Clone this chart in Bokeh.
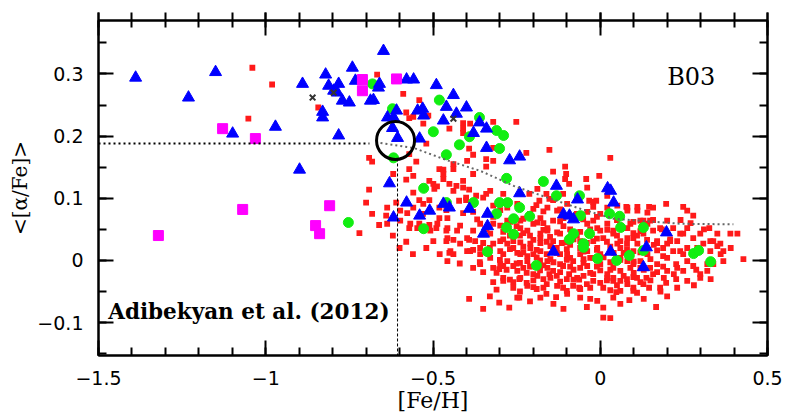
from bokeh.plotting import figure
from bokeh.models import Range1d, FixedTicker, LinearAxis, Label, CustomJSTickFormatter
from bokeh.embed import file_html
from bokeh.resources import INLINE
import numpy as np

# ---------------- data ([Fe/H], <[alpha/Fe]>) ----------------
red = [
    (-1.040, 0.310), (-0.981, 0.283), (-1.052, 0.228), (-0.843, 0.246), (-0.667, 0.299),
    (-0.691, 0.165), (-0.682, 0.159), (-0.619, 0.139), (-0.691, 0.114), (-0.700, 0.093),
    (-0.610, 0.093), (-0.682, 0.075), (-0.661, 0.057), (-0.640, 0.072), (-0.720, 0.044),
    (-0.580, 0.130), (-0.559, 0.136), (-0.559, 0.109), (-0.511, 0.128), (-0.499, 0.123),
    (-0.488, 0.119), (-0.469, 0.131), (-0.541, 0.097), (-0.529, 0.091), (-0.511, 0.097),
    (-0.481, 0.085), (-0.460, 0.081), (-0.571, 0.052), (-0.541, 0.059), (-0.511, 0.057),
    (-0.490, 0.052), (-0.460, 0.048), (-0.499, 0.031), (-0.460, 0.031), (-0.451, 0.012),
    (-0.481, 0.068), (-0.496, 0.115), (-0.577, 0.076), (-0.589, 0.268), (-0.541, 0.258),
    (-0.580, 0.238), (-0.571, 0.229), (-0.410, 0.221), (-0.451, 0.212), (-0.410, 0.212),
    (-0.410, 0.205), (-0.389, 0.220), (-0.550, 0.159), (-0.520, 0.188), (-0.481, 0.147),
    (-0.439, 0.147), (-0.398, 0.160), (-0.410, 0.128), (-0.571, 0.147), (-0.514, 0.233),
    (-0.559, 0.231), (-0.529, 0.220), (-0.392, 0.180), (-0.380, 0.170), (-0.320, 0.223),
    (-0.251, 0.223), (-0.152, 0.178), (-0.105, 0.151), (-0.102, 0.139), (-0.105, 0.131),
    (-0.042, 0.131), (-0.003, 0.136), (0.030, 0.165), (-0.571, 0.171), (-0.469, 0.146),
    (-0.341, 0.151), (-0.341, 0.163), (-0.320, 0.160), (-0.380, 0.139), (-0.439, 0.155),
    (-0.451, 0.123), (-0.439, 0.112), (-0.392, 0.114), (-0.422, 0.096), (-0.401, 0.097),
    (-0.341, 0.107), (-0.290, 0.107), (-0.212, 0.107), (-0.182, 0.096), (-0.161, 0.107),
    (-0.111, 0.107), (-0.093, 0.123), (-0.033, 0.096), (-0.012, 0.096), (-0.021, 0.086),
    (0.078, 0.086), (0.111, 0.086), (0.146, 0.086), (0.197, 0.091), (0.248, 0.086),
    (-0.191, 0.089), (-0.141, 0.097), (-0.320, 0.181), (-0.221, 0.173), (-0.141, 0.143),
    (-0.469, 0.139), (-0.430, 0.120), (-0.410, 0.117), (-0.371, 0.104), (-0.350, 0.101),
    (-0.401, 0.101), (-0.329, 0.112), (-0.188, 0.115), (-0.152, 0.099), (-0.021, 0.094),
    (-0.039, 0.117), (0.021, 0.104), (0.278, 0.072), (0.326, 0.052), (0.338, 0.031),
    (0.359, 0.027), (0.389, 0.043), (0.410, 0.043), (0.428, 0.002), (0.368, 0.015),
    (0.350, 0.023), (0.287, -0.015), (0.299, -0.022), (0.320, -0.017), (0.227, -0.030),
    (0.197, -0.036), (0.138, -0.028), (0.146, -0.044), (0.099, -0.044), (0.048, -0.051),
    (0.009, -0.044), (-0.063, -0.044), (-0.111, -0.044), (-0.132, -0.059), (-0.161, -0.054),
    (-0.200, -0.043), (-0.260, -0.044), (-0.290, -0.033), (-0.302, -0.014), (-0.290, -0.009),
    (-0.260, -0.009), (-0.242, -0.030), (-0.200, -0.022), (-0.152, -0.022), (-0.093, -0.022),
    (-0.063, -0.031), (-0.021, -0.033), (0.039, -0.033), (0.099, -0.027), (0.158, -0.022),
    (0.188, -0.010), (0.227, -0.006), (0.239, 0.015), (0.188, 0.007), (0.170, 0.031),
    (0.209, 0.031), (0.239, 0.043), (0.260, 0.052), (0.329, 0.015), (0.338, -0.006),
    (0.278, -0.009), (0.218, 0.052), (0.200, 0.064), (0.141, 0.059), (0.120, 0.064),
    (0.099, 0.044), (0.081, 0.036), (0.060, 0.020), (0.099, 0.015), (0.081, -0.001),
    (0.120, -0.012), (0.039, -0.012), (0.021, -0.022), (0.000, -0.006), (-0.021, 0.004),
    (-0.039, 0.015), (-0.060, 0.031), (-0.021, 0.031), (0.000, 0.048), (0.039, 0.043),
    (0.060, 0.056), (0.021, 0.059), (-0.021, 0.064), (-0.141, 0.031), (-0.120, 0.043),
    (-0.158, 0.048), (-0.179, 0.036), (-0.209, 0.027), (-0.179, 0.015), (-0.158, -0.001),
    (-0.120, -0.006), (-0.099, 0.010), (-0.081, -0.001), (-0.060, -0.012), (-0.141, -0.017),
    (-0.218, -0.001), (-0.239, 0.010), (-0.260, 0.020), (-0.278, -0.001), (-0.299, 0.015),
    (-0.320, 0.027), (-0.299, 0.031), (-0.260, 0.031), (-0.218, 0.048), (-0.200, 0.059),
    (-0.239, 0.064), (-0.278, 0.064), (-0.320, 0.059), (-0.359, 0.059), (-0.380, 0.048),
    (-0.398, 0.036), (-0.428, 0.048), (-0.457, 0.052), (-0.487, 0.059), (-0.508, 0.048),
    (-0.457, 0.036), (-0.419, 0.027), (-0.448, 0.015), (-0.389, 0.015), (-0.359, 0.020),
    (-0.329, 0.004), (-0.320, -0.012), (-0.359, -0.006), (-0.380, -0.012), (-0.547, 0.052),
    (-0.568, 0.059), (-0.598, 0.064), (-0.637, 0.059), (-0.598, 0.080), (-0.559, 0.085),
    (-0.637, 0.085), (-0.392, -0.062), (-0.350, -0.078), (-0.302, -0.068), (-0.272, -0.076),
    (-0.242, -0.060), (0.030, -0.093), (0.009, -0.076), (-0.030, -0.062), (0.087, -0.064),
    (0.167, -0.075), (0.039, -0.060), (0.060, -0.033), (0.230, -0.012), (0.278, 0.036),
    (0.248, 0.043), (0.299, 0.043), (0.329, 0.031), (0.260, 0.080), (0.179, 0.052),
    (0.149, 0.064), (0.111, 0.080), (0.081, 0.085), (0.051, 0.088), (0.218, 0.015),
    (0.248, 0.010), (0.320, -0.006), (0.260, -0.001), (0.200, 0.004), (0.170, -0.006),
    (0.120, -0.001), (0.090, -0.012), (0.060, -0.017), (0.099, 0.036), (0.200, 0.027),
    (0.060, 0.031), (0.039, 0.048), (0.090, 0.059), (0.158, 0.085), (0.299, 0.015),
    (0.350, 0.043), (0.230, 0.031), (-0.419, 0.056), (-0.457, 0.068), (-0.410, 0.076),
    (-0.439, 0.033), (-0.374, 0.031), (-0.398, 0.015), (-0.439, 0.010), (-0.457, -0.001),
    (-0.359, 0.010), (-0.290, 0.010), (-0.248, 0.012), (-0.218, 0.007), (-0.149, 0.002),
    (-0.120, 0.010), (-0.090, 0.004), (-0.060, 0.010), (-0.030, 0.004), (0.000, 0.010),
    (-0.299, -0.006), (-0.230, -0.012), (-0.158, -0.012), (-0.111, -0.009), (-0.039, -0.009),
    (-0.290, -0.028), (-0.239, -0.028), (-0.188, -0.025), (-0.149, -0.028), (-0.069, -0.028),
    (-0.021, -0.022), (0.021, -0.028), (-0.218, -0.041), (-0.170, -0.044), (-0.129, -0.041),
    (-0.081, -0.041), (-0.030, -0.044), (-0.248, -0.017), (-0.209, 0.020), (-0.179, 0.028),
    (-0.149, 0.023), (-0.179, 0.043), (-0.230, 0.044), (-0.278, 0.027), (-0.329, 0.043),
    (-0.299, 0.056), (-0.158, 0.052), (-0.141, 0.064), (-0.179, 0.068), (-0.200, 0.083),
    (-0.158, 0.085), (-0.129, 0.080), (-0.099, 0.091), (-0.248, 0.091), (-0.278, 0.085),
    (-0.320, 0.088), (-0.039, 0.059), (-0.009, 0.052), (0.009, 0.036), (-0.009, 0.020),
    (0.000, 0.075), (0.021, 0.085), (-0.248, -0.060), (-0.179, -0.060), (-0.060, -0.060),
    (-0.009, -0.065), (-0.099, -0.054), (0.009, -0.092), (0.051, 0.027), (0.141, 0.010),
    (0.060, 0.004), (0.099, -0.006), (0.149, -0.012), (0.039, -0.028), (0.081, -0.038),
    (0.129, -0.038), (0.179, -0.044), (0.099, -0.049), (0.060, -0.049), (0.200, -0.017),
    (0.248, -0.017), (0.260, 0.020), (0.290, 0.020), (0.308, 0.027), (0.368, -0.001),
    (0.260, -0.033), (0.230, -0.044), (0.299, -0.028), (0.129, 0.064), (0.129, 0.043),
    (0.158, 0.048), (0.111, 0.027), (0.188, 0.020),
]

# extra stars read from the crowded thin-disc clump
red_clump = [
    (-0.380, 0.078), (-0.299, 0.081), (-0.170, 0.079), (-0.120, 0.082), (-0.039, 0.078),
    (0.081, 0.080), (0.141, 0.077), (-0.368, 0.066), (-0.269, 0.062), (-0.230, 0.067),
    (-0.188, 0.061), (-0.120, 0.063), (-0.051, 0.066), (0.099, 0.062), (0.158, 0.065),
    (-0.320, 0.070), (-0.340, 0.050), (-0.290, 0.046), (-0.239, 0.052), (-0.170, 0.049),
    (-0.129, 0.045), (-0.090, 0.050), (-0.060, 0.046), (0.021, 0.049), (0.081, 0.052),
    (0.120, 0.047), (0.184, 0.050), (-0.392, 0.033), (-0.350, 0.028), (-0.290, 0.034),
    (-0.239, 0.029), (-0.200, 0.033), (-0.160, 0.030), (-0.101, 0.029), (-0.080, 0.034),
    (-0.040, 0.028), (0.020, 0.030), (0.080, 0.027), (0.140, 0.033), (0.170, 0.028),
    (0.209, 0.034), (-0.380, 0.017), (-0.340, 0.012), (-0.270, 0.018), (-0.230, 0.013),
    (-0.190, 0.017), (-0.130, 0.012), (-0.100, 0.018), (-0.050, 0.014), (-0.010, 0.017),
    (0.040, 0.012), (0.080, 0.018), (0.120, 0.013), (0.170, 0.016), (-0.360, -0.003),
    (-0.300, 0.001), (-0.240, -0.004), (-0.180, 0.000), (-0.140, -0.003), (-0.100, 0.001),
    (-0.050, -0.004), (-0.010, 0.000), (0.030, -0.003), (0.060, 0.001), (0.100, -0.002),
    (0.150, 0.002), (-0.350, -0.019), (-0.280, -0.015), (-0.220, -0.020), (-0.180, -0.016),
    (-0.120, -0.019), (-0.080, -0.015), (-0.030, -0.020), (0.000, -0.016), (0.100, -0.020),
    (0.130, -0.015), (0.170, -0.019), (-0.320, -0.035), (-0.270, -0.031), (-0.220, -0.036),
    (-0.170, -0.030), (-0.120, -0.034), (-0.080, -0.031), (0.000, -0.036), (0.020, -0.032),
    (0.080, -0.030), (0.120, -0.035), (-0.310, -0.047), (-0.240, -0.050), (-0.190, -0.046),
    (-0.100, -0.049), (-0.060, -0.046), (0.030, -0.048), (0.180, -0.050), (0.110, -0.052),
    (-0.330, -0.058), (-0.210, -0.066), (-0.140, -0.070), (-0.040, -0.075), (0.060, -0.070),
    (0.130, -0.062), (-0.110, -0.078), (0.200, -0.058), (0.270, 0.060), (0.310, 0.050),
    (0.280, -0.040), (0.330, -0.030), (0.360, 0.010), (0.390, 0.020), (0.240, 0.065),
    (0.220, -0.022), (-0.620, 0.040), (-0.580, 0.030), (-0.560, 0.010), (-0.520, 0.020),
    (-0.530, 0.075), (-0.480, 0.010), (-0.420, -0.005), (-0.600, 0.020),
    (-0.230, 0.022), (-0.210, 0.040), (-0.190, 0.005), (-0.170, 0.060), (-0.150, 0.038),
    (-0.130, 0.020), (-0.110, 0.055), (-0.090, 0.025), (-0.070, 0.040), (-0.050, 0.002),
    (-0.030, 0.050), (-0.010, 0.035), (0.010, 0.005), (0.030, 0.022), (0.050, 0.040),
    (0.070, 0.012), (-0.250, -0.005), (-0.210, -0.010), (-0.170, -0.008), (-0.130, -0.025),
    (-0.090, -0.010), (-0.050, -0.025), (-0.010, -0.010), (0.030, -0.015), (0.070, -0.025),
    (-0.270, 0.040), (-0.250, 0.055), (-0.210, 0.075), (-0.110, 0.068), (-0.070, 0.075),
    (-0.010, 0.070), (0.050, 0.065), (0.110, 0.040), (0.160, 0.025), (-0.330, 0.020),
    (-0.310, -0.020), (-0.260, -0.035), (-0.200, -0.032), (-0.160, -0.038), (-0.100, -0.030),
    (-0.040, -0.038), (0.050, -0.040), (0.110, -0.028), (0.150, -0.032), (0.190, -0.028),
    (-0.060, 0.020), (-0.115, 0.028), (-0.160, 0.010), (-0.200, 0.010), (-0.240, 0.040),
]

blue = [
    (-1.389, 0.294), (-1.231, 0.262), (-1.150, 0.303), (-1.099, 0.204), (-0.971, 0.215),
    (-0.899, 0.146), (-0.890, 0.284), (-0.821, 0.299), (-0.812, 0.281), (-0.782, 0.284),
    (-0.797, 0.273), (-0.786, 0.270), (-0.771, 0.257), (-0.750, 0.254), (-0.741, 0.310),
    (-0.732, 0.289), (-0.830, 0.239), (-0.830, 0.230), (-0.782, 0.201), (-0.687, 0.257),
    (-0.678, 0.258), (-0.660, 0.284), (-0.663, 0.278), (-0.648, 0.337), (-0.630, 0.124),
    (-0.609, 0.241), (-0.618, 0.230), (-0.636, 0.230), (-0.621, 0.213), (-0.606, 0.197),
    (-0.579, 0.291), (-0.558, 0.291), (-0.490, 0.282), (-0.439, 0.266), (-0.546, 0.241),
    (-0.531, 0.244), (-0.528, 0.233), (-0.460, 0.247), (-0.469, 0.225), (-0.430, 0.236),
    (-0.400, 0.246), (-0.540, 0.196), (-0.361, 0.222), (-0.340, 0.212), (-0.379, 0.205),
    (-0.340, 0.181), (-0.271, 0.161), (-0.241, 0.167), (-0.579, 0.093), (-0.469, 0.091),
    (-0.451, 0.085), (-0.241, 0.108), (-0.131, 0.120), (-0.068, 0.098), (0.022, 0.116),
    (0.040, 0.093), (-0.618, 0.069), (-0.540, 0.072), (-0.510, 0.080), (-0.391, 0.083),
    (-0.337, 0.075), (-0.337, 0.055), (-0.349, 0.043), (-0.110, 0.074), (-0.092, 0.072),
    (-0.080, 0.066), (-0.140, 0.014), (0.031, 0.014), (0.138, 0.021), (0.129, -0.011),
    (0.198, 0.045), (0.031, 0.112),
]

green = [
    (-0.681, 0.284), (-0.621, 0.244), (-0.481, 0.258), (-0.499, 0.207), (-0.421, 0.186),
    (-0.460, 0.170), (-0.618, 0.165), (-0.361, 0.230), (-0.391, 0.199), (-0.310, 0.209),
    (-0.289, 0.201), (-0.301, 0.180), (-0.280, 0.132), (-0.170, 0.127), (-0.131, 0.104),
    (-0.062, 0.104), (-0.528, 0.116), (-0.460, 0.093), (-0.379, 0.093), (-0.301, 0.093),
    (-0.277, 0.093), (-0.241, 0.085), (-0.310, 0.075), (-0.259, 0.067), (-0.211, 0.071),
    (-0.280, 0.053), (-0.259, 0.042), (-0.337, 0.014), (-0.191, -0.008), (-0.059, 0.072),
    (-0.080, 0.043), (-0.092, 0.034), (-0.032, 0.043), (-0.050, 0.027), (-0.050, 0.021),
    (-0.008, 0.003), (0.049, 0.000), (0.087, 0.008), (0.129, 0.016), (0.129, 0.053),
    (0.058, 0.071), (0.028, 0.075), (0.061, 0.053), (0.279, 0.011), (0.294, 0.016),
    (0.330, -0.002), (-0.528, 0.051), (-0.753, 0.061),
]

magenta = [
    (-1.321, 0.040), (-1.069, 0.082), (-1.129, 0.212), (-1.031, 0.196), (-0.809, 0.088),
    (-0.851, 0.056), (-0.839, 0.043), (-0.711, 0.291), (-0.711, 0.273), (-0.609, 0.292),
]

cross = [(-0.860, 0.262), (-0.797, 0.270), (-0.439, 0.228)]

# dotted trend (running mean) and reference lines
trend_feh = [-0.657, -0.558, -0.457, -0.358, -0.259, -0.158, -0.059, 0.040, 0.141, 0.240, 0.398]
trend_alpha = [0.189, 0.181, 0.161, 0.144, 0.120, 0.101, 0.083, 0.067, 0.063, 0.059, 0.058]
hline_feh = [-1.5, -0.69]
hline_alpha = [0.188, 0.188]
vline_feh = [-0.606, -0.606]
vline_alpha = [0.164, -0.153]
circle_feh = [-0.612]
circle_alpha = [0.193]

x_ticks = [-1.5, -1.0, -0.5, 0.0, 0.5]
x_tick_labels = {-1.5: "\u22121.5", -1.0: "\u22121", -0.5: "\u22120.5", 0.0: "0", 0.5: "0.5"}
y_ticks = [-0.1, 0.0, 0.1, 0.2, 0.3]
y_tick_labels = {-0.1: "\u22120.1", 0.0: "0", 0.1: "0.1", 0.2: "0.2", 0.3: "0.3"}

# ---------------- figure ----------------
p = figure(width=786, height=418,
           x_range=Range1d(-1.5, 0.5), y_range=Range1d(-0.153, 0.386),
           output_backend="svg", toolbar_location=None,
           min_border_left=98, min_border_right=19, min_border_top=20, min_border_bottom=63)
p.grid.visible = False
p.background_fill_color = "white"
p.border_fill_color = "white"
p.outline_line_color = "black"
p.outline_line_width = 2

x_minor = [round(v, 2) for v in np.arange(-1.5, 0.51, 0.1)]
y_minor = [round(v, 3) for v in np.arange(-0.15, 0.39, 0.05)]
xt = FixedTicker(ticks=x_ticks, minor_ticks=x_minor)
yt = FixedTicker(ticks=y_ticks, minor_ticks=y_minor)


def style(ax, tick_out=0):
    ax.axis_line_width = 2
    ax.axis_line_color = "black"
    ax.major_tick_line_width = 2
    ax.minor_tick_line_width = 2
    ax.major_tick_line_color = "black"
    ax.minor_tick_line_color = "black"
    ax.major_tick_in = 15
    ax.major_tick_out = tick_out
    ax.minor_tick_in = 8
    ax.minor_tick_out = tick_out


xa = p.xaxis[0]
xa.ticker = xt
xa.major_label_overrides = x_tick_labels
style(xa)
xa.major_label_standoff = 15
xa.major_label_text_font = "DejaVu Sans"
xa.major_label_text_font_size = "19px"
xa.major_label_text_color = "black"
xa.axis_label = "[Fe/H]"
xa.axis_label_text_font = "DejaVu Serif"
xa.axis_label_text_font_style = "normal"
xa.axis_label_text_font_size = "22px"
xa.axis_label_text_color = "black"
xa.axis_label_standoff = 0

ya = p.yaxis[0]
ya.ticker = yt
ya.major_label_overrides = y_tick_labels
style(ya)
ya.major_label_standoff = 15
ya.major_label_text_font = "DejaVu Sans"
ya.major_label_text_font_size = "19px"
ya.major_label_text_color = "black"
ya.major_label_orientation = "horizontal"
ya.axis_label = "<[\u03b1/Fe]>"
ya.axis_label_text_font = "DejaVu Serif"
ya.axis_label_text_font_style = "normal"
ya.axis_label_text_font_size = "20px"
ya.axis_label_text_color = "black"
ya.axis_label_standoff = 2

blank = CustomJSTickFormatter(code="return ''")
top = LinearAxis(ticker=FixedTicker(ticks=x_ticks, minor_ticks=x_minor), formatter=blank)
style(top, tick_out=8)
top.minor_tick_in = 7
p.add_layout(top, "above")
right = LinearAxis(ticker=FixedTicker(ticks=y_ticks, minor_ticks=y_minor), formatter=blank)
style(right)
p.add_layout(right, "right")

# ---------------- glyphs ----------------
all_red = red + red_clump
p.scatter([v[0] for v in all_red], [v[1] for v in all_red], marker="square", size=5.8,
          fill_color="#ff1a1a", line_color=None)
p.scatter([v[0] for v in green], [v[1] for v in green], marker="circle", size=10,
          fill_color="#11ee11", line_color="#11ee11")
p.scatter([v[0] for v in blue], [v[1] for v in blue], marker="triangle", size=12,
          fill_color="#0000ff", line_color="#0000ff")
p.scatter([v[0] for v in magenta], [v[1] for v in magenta], marker="square", size=10,
          fill_color="#ff00ff", line_color="#ff00ff")
p.scatter([v[0] for v in cross], [v[1] for v in cross], marker="x", size=8,
          line_color="#333333", line_width=2)

p.line(hline_feh, hline_alpha, line_color="black", line_width=2, line_dash="2 3")
p.line(vline_feh, vline_alpha, line_color="black", line_width=1, line_dash="3 2")
p.line(trend_feh, trend_alpha, line_color="#666666", line_width=2, line_dash="2 3")
p.scatter(circle_feh, circle_alpha, marker="circle", size=38, fill_color=None,
          line_color="black", line_width=3)

p.add_layout(Label(x=0.2, y=0.295, text="B03", text_font="DejaVu Serif",
                   text_font_size="24px", text_color="black", text_baseline="alphabetic"))
p.add_layout(Label(x=-1.471, y=-0.083, text="Adibekyan et al. (2012)", text_font="DejaVu Serif",
                   text_font_style="bold", text_font_size="21.5px", text_color="black",
                   text_baseline="alphabetic"))

open("out.html", "w").write(file_html(p, INLINE))
